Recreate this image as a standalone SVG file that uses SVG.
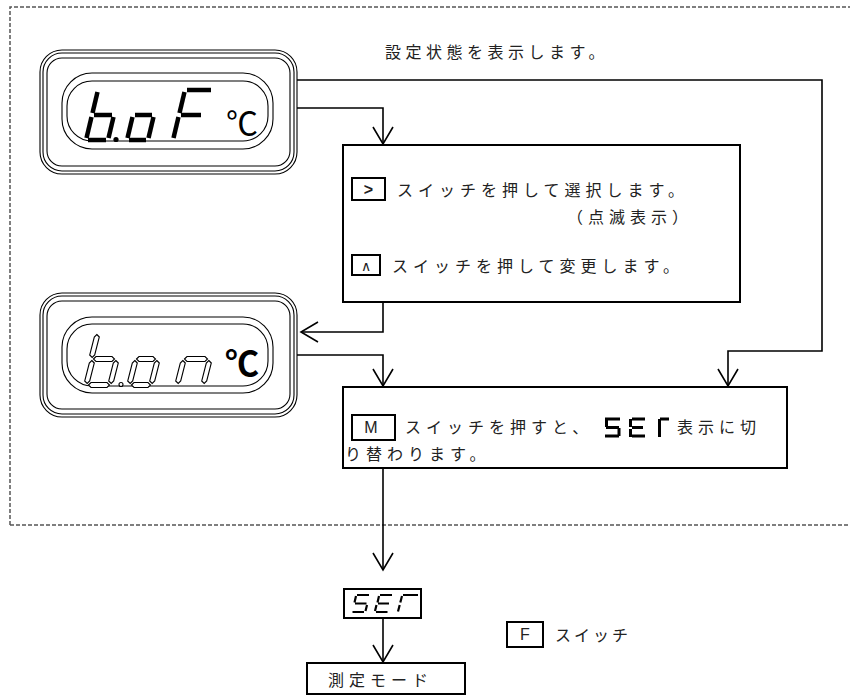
<svg xmlns="http://www.w3.org/2000/svg" width="850" height="697" viewBox="0 0 850 697">
<style>
.jp{font-family:"Noto Sans CJK JP","Noto Sans",sans-serif;font-size:16px;letter-spacing:5px;fill:#222}
.lat{font-family:"Liberation Sans","DejaVu Sans",sans-serif;font-size:16px;fill:#222;text-anchor:middle}
.box{fill:#fff;stroke:#000;stroke-width:2}
.fr{fill:none;stroke:#000;stroke-width:1.1}
.seg{stroke:#000;stroke-width:4.5;stroke-linecap:butt;fill:none}
.hs{fill:#fff;stroke:#000;stroke-width:1.1}
.s7{stroke:#000;stroke-width:2.2;fill:none}
.b7{stroke:#000;stroke-width:3;fill:none}
.cn{fill:none;stroke:#000;stroke-width:1.6}
.dash{fill:none;stroke:#555;stroke-width:1.5;stroke-dasharray:4 2}
</style>
<defs>
<marker id="v" viewBox="-18 -11 20 22" refX="0" refY="0" markerWidth="20" markerHeight="22" markerUnits="userSpaceOnUse" orient="auto" overflow="visible">
<path d="M-17,-10 L0,0 L-17,10" fill="none" stroke="#000" stroke-width="1.6"/>
</marker>
</defs>
<rect width="850" height="697" fill="#fff"/>
<path class="dash" d="M10,525 V7 H850 M10,525 H850"/>

<g id="caption">
<text class="jp" x="385" y="58" style="letter-spacing:4.5px">設定状態を表示します。</text>
</g>

<g id="display1">
<rect class="fr" x="40" y="50" width="257" height="124" rx="22"/>
<rect class="fr" x="43" y="53" width="251" height="118" rx="19"/>
<rect class="fr" x="47" y="58" width="243" height="108" rx="15"/>
<rect class="fr" x="62" y="73" width="211" height="76" rx="30"/>
<rect class="fr" x="67" y="81" width="201" height="60" rx="25"/>
<g class="seg">
<line x1="97.5" y1="92" x2="92.5" y2="113"/>
<line x1="91.5" y1="117" x2="86.5" y2="138"/>
<line x1="94" y1="115" x2="112" y2="115"/>
<line x1="113.5" y1="117" x2="108.5" y2="138"/>
<line x1="88" y1="140" x2="106" y2="140"/>
<line x1="135" y1="115" x2="152" y2="115"/>
<line x1="153.5" y1="117" x2="148.5" y2="138"/>
<line x1="129" y1="140" x2="146" y2="140"/>
<line x1="132.5" y1="117" x2="127.5" y2="138"/>
<line x1="187" y1="90" x2="211" y2="90"/>
<line x1="184.5" y1="92" x2="179.5" y2="113"/>
<line x1="178.5" y1="117" x2="173.5" y2="138"/>
<line x1="181" y1="115" x2="201" y2="115"/>
</g>
<circle cx="116" cy="139.5" r="2.6" fill="#000"/>
<text x="226" y="135" style="font-family:'Noto Sans CJK JP','DejaVu Sans',sans-serif;font-size:32px;fill:#000">℃</text>
</g>

<g id="display2">
<rect class="fr" x="40" y="293" width="257" height="124" rx="22"/>
<rect class="fr" x="43" y="296" width="251" height="118" rx="19"/>
<rect class="fr" x="47" y="301" width="243" height="108" rx="15"/>
<rect class="fr" x="62" y="317" width="211" height="76" rx="30"/>
<rect class="fr" x="67" y="324" width="201" height="62" rx="25"/>
<g class="hs">
<polygon points="96.8,334.5 99.3,337 94.7,355 92.2,357.5 89.7,355 94.3,337"/>
<polygon points="91.8,360.5 94.3,363 89.7,381 87.2,383.5 84.7,381 89.3,363"/>
<polygon points="93.5,359 96,356.5 112,356.5 114.5,359 112,361.5 96,361.5"/>
<polygon points="115.8,360.5 118.3,363 113.7,381 111.2,383.5 108.7,381 113.3,363"/>
<polygon points="88.5,385 91,382.5 107,382.5 109.5,385 107,387.5 91,387.5"/>
<circle cx="121" cy="384.5" r="2"/>
<polygon points="136.5,359 139,356.5 153,356.5 155.5,359 153,361.5 139,361.5"/>
<polygon points="156.8,360.5 159.3,363 154.7,381 152.2,383.5 149.7,381 154.3,363"/>
<polygon points="131.5,385 134,382.5 148,382.5 150.5,385 148,387.5 134,387.5"/>
<polygon points="134.8,360.5 137.3,363 132.7,381 130.2,383.5 127.7,381 132.3,363"/>
<polygon points="184.5,359 187,356.5 205,356.5 207.5,359 205,361.5 187,361.5"/>
<polygon points="208.8,360.5 211.3,363 206.7,381 204.2,383.5 201.7,381 206.3,363"/>
<polygon points="182.8,360.5 185.3,363 180.7,381 178.2,383.5 175.7,381 180.3,363"/>
</g>
<text x="225" y="376" style="font-family:'Noto Sans CJK JP','DejaVu Sans',sans-serif;font-size:34px;font-weight:bold;fill:#000">℃</text>
</g>

<g id="box1">
<rect class="box" x="343" y="145" width="397" height="157"/>
<rect class="box" x="352" y="178" width="33" height="22"/>
<text class="lat" x="368.5" y="195" style="font-weight:bold">&gt;</text>
<text class="jp" x="397" y="196">スイッチを押して選択します。</text>
<text class="jp" x="567" y="223">（点滅表示）</text>
<rect class="box" x="352" y="255" width="28" height="20"/>
<text class="lat" x="366" y="271" style="font-size:14px">∧</text>
<text class="jp" x="392" y="272">スイッチを押して変更します。</text>
</g>

<g id="box2">
<rect class="box" x="343" y="387" width="444" height="81"/>
<rect class="box" x="352" y="415" width="43" height="25"/>
<text class="lat" x="371" y="433">M</text>
<text class="jp" x="405" y="433">スイッチを押すと、</text>
<g class="b7">
<path d="M605,419 H620 M606.5,419 V427 M606,427.5 H619 M619,428 V436 M605,436 H619"/>
<path d="M632,419 H645 M630.5,419 V427 M630.5,429 V437 M632,427.5 H643 M632,436 H645"/>
<path d="M660,419 H669 M659.5,419 V437"/>
</g>
<text class="jp" x="677" y="433">表示に切</text>
<text class="jp" x="345" y="460">り替わります。</text>
</g>

<g id="set">
<rect class="box" x="344" y="589" width="77" height="29"/>
<g class="s7">
<path d="M357,595 H369 M356,596 L354.5,602.5 M355,603.5 H366.5 M367,605 L365.5,611 M352.5,612 H364"/>
<path d="M380,595 H392 M379,596 L377.5,602.5 M376.5,605 L375,611 M378,603.5 H389 M376,612 H387.5"/>
<path d="M403,595 H418 M402,596 L400.3,602.5 M399.7,605 L398,611.5"/>
</g>
</g>

<g id="fswitch">
<rect class="box" x="507" y="622" width="36" height="25"/>
<text class="lat" x="525" y="640">F</text>
<text class="jp" x="555" y="641" style="letter-spacing:3px">スイッチ</text>
</g>

<g id="measure">
<rect class="box" x="307" y="663" width="158" height="31"/>
<text class="jp" x="328" y="686">測定モード</text>
</g>

<g id="connectors">
<path class="cn" d="M297,80 H822 V351 H728 V386" marker-end="url(#v)"/>
<path class="cn" d="M297,108 H383 V144" marker-end="url(#v)"/>
<path class="cn" d="M383,302 V332 H301" marker-end="url(#v)"/>
<path class="cn" d="M297,355 H383 V386" marker-end="url(#v)"/>
<path class="cn" d="M383,469 V570" marker-end="url(#v)"/>
<path class="cn" d="M383,619 V662" marker-end="url(#v)"/>
</g>
</svg>
